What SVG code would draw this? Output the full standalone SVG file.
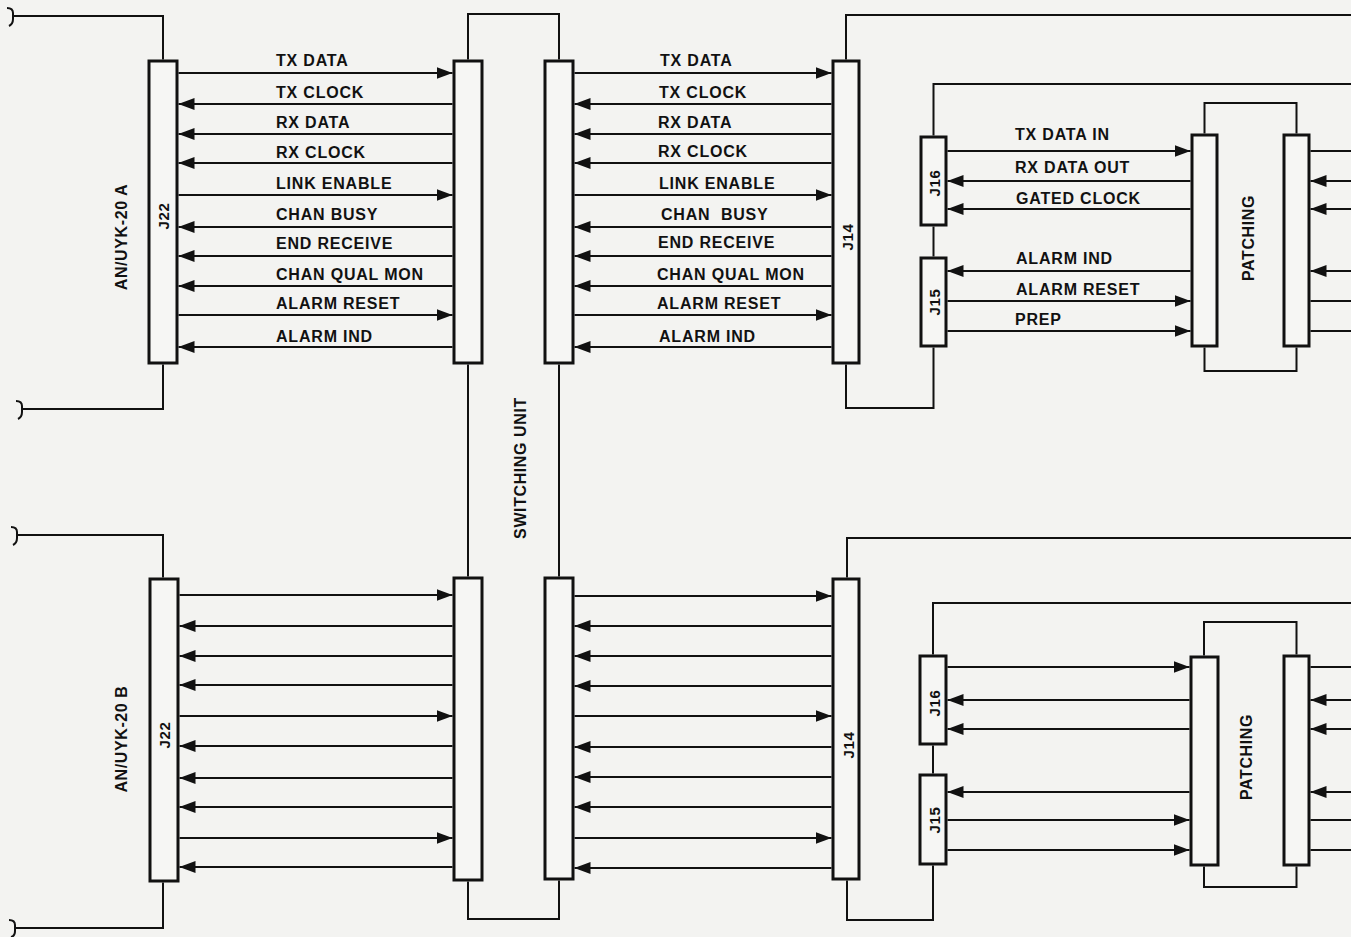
<svg xmlns="http://www.w3.org/2000/svg" width="1351" height="937" viewBox="0 0 1351 937">
<style>
.bg{fill:#f3f3f1}
.box{fill:#f6f6f4;stroke:#111;stroke-width:3}
.w{fill:none;stroke:#111;stroke-width:2}
.s{fill:none;stroke:#111;stroke-width:2.2}
.a{marker-end:url(#ah)}
.t{font-family:"Liberation Sans",Arial,sans-serif;font-size:16px;font-weight:bold;letter-spacing:0.8px;fill:#111}
.r{font-family:"Liberation Sans",Arial,sans-serif;font-size:16px;font-weight:bold;letter-spacing:0.6px;fill:#111;text-anchor:middle;dominant-baseline:central}
.j{font-family:"Liberation Sans",Arial,sans-serif;font-size:15px;font-weight:bold;letter-spacing:0.6px;fill:#111;text-anchor:middle;dominant-baseline:central}
</style>
<defs>
<marker id="ah" viewBox="0 0 16 12" refX="16" refY="6" markerWidth="16" markerHeight="12" markerUnits="userSpaceOnUse" orient="auto">
<path d="M0,0 L16,6 L0,12 z" fill="#111"/>
</marker>
</defs>
<rect class="bg" x="0" y="0" width="1351" height="937"/>

<g id="connectors">
<!-- top section wiring -->
<path class="w" d="M13,16 H163 V59.5"/>
<path class="w" d="M7,8 Q13,8 13,13 V19 Q13,24 9,26"/>
<path class="w" d="M163,364.5 V409 H22"/>
<path class="w" d="M16,401 Q22,401 22,406 V412 Q22,417 18,419"/>
<path class="w" d="M468,59.5 V14 H559 V59.5"/>
<path class="w" d="M468,364.5 V576.5"/>
<path class="w" d="M559,364.5 V576.5"/>
<path class="w" d="M846,59.5 V15 H1351"/>
<path class="w" d="M846,364.5 V408 H933.5 V347.5"/>
<path class="w" d="M933.5,135.5 V84 H1351"/>
<path class="w" d="M933.5,226.5 V256.5"/>
<path class="w" d="M1204.5,133.5 V103 H1296.5 V133.5"/>
<path class="w" d="M1204.5,347.5 V371 H1296.5 V347.5"/>
<!-- top left signals -->
<path class="s a" d="M178.5,73 H452.5"/>
<path class="s a" d="M452.5,104 H178.5"/>
<path class="s a" d="M452.5,134 H178.5"/>
<path class="s a" d="M452.5,163 H178.5"/>
<path class="s a" d="M178.5,195 H452.5"/>
<path class="s a" d="M452.5,227 H178.5"/>
<path class="s a" d="M452.5,256 H178.5"/>
<path class="s a" d="M452.5,286 H178.5"/>
<path class="s a" d="M178.5,315 H452.5"/>
<path class="s a" d="M452.5,347 H178.5"/>
<!-- top middle signals -->
<path class="s a" d="M574.5,73 H831.5"/>
<path class="s a" d="M831.5,104 H574.5"/>
<path class="s a" d="M831.5,134 H574.5"/>
<path class="s a" d="M831.5,163 H574.5"/>
<path class="s a" d="M574.5,195 H831.5"/>
<path class="s a" d="M831.5,227 H574.5"/>
<path class="s a" d="M831.5,256 H574.5"/>
<path class="s a" d="M831.5,286 H574.5"/>
<path class="s a" d="M574.5,315 H831.5"/>
<path class="s a" d="M831.5,347 H574.5"/>
<!-- top J16/J15 signals -->
<path class="s a" d="M947.5,151 H1190.5"/>
<path class="s a" d="M1190.5,181 H947.5"/>
<path class="s a" d="M1190.5,209 H947.5"/>
<path class="s a" d="M1190.5,271 H947.5"/>
<path class="s a" d="M947.5,301 H1190.5"/>
<path class="s a" d="M947.5,331 H1190.5"/>
<!-- top right of patching -->
<path class="s" d="M1310.5,151 H1351"/>
<path class="s a" d="M1351,181 H1310.5"/>
<path class="s a" d="M1351,209 H1310.5"/>
<path class="s a" d="M1351,271 H1310.5"/>
<path class="s" d="M1310.5,301 H1351"/>
<path class="s" d="M1310.5,331 H1351"/>

<!-- bottom section wiring -->
<path class="w" d="M17,535 H163 V577.5"/>
<path class="w" d="M11,527 Q17,527 17,532 V538 Q17,543 13,545"/>
<path class="w" d="M163,882.5 V928 H15"/>
<path class="w" d="M9,920 Q15,920 15,925 V931 Q15,936 11,937"/>
<path class="w" d="M468,881.5 V919 H559 V880.5"/>
<path class="w" d="M847,577.5 V538 H1351"/>
<path class="w" d="M847,880.5 V920 H933 V865.5"/>
<path class="w" d="M933,654.5 V603 H1351"/>
<path class="w" d="M933,745.5 V773.5"/>
<path class="w" d="M1204,655.5 V622 H1296.5 V654.5"/>
<path class="w" d="M1204,866.5 V887 H1296.5 V866.5"/>
<!-- bottom left signals -->
<path class="s a" d="M179.5,595 H452.5"/>
<path class="s a" d="M452.5,626 H179.5"/>
<path class="s a" d="M452.5,656 H179.5"/>
<path class="s a" d="M452.5,685 H179.5"/>
<path class="s a" d="M179.5,716 H452.5"/>
<path class="s a" d="M452.5,746 H179.5"/>
<path class="s a" d="M452.5,778 H179.5"/>
<path class="s a" d="M452.5,807 H179.5"/>
<path class="s a" d="M179.5,838 H452.5"/>
<path class="s a" d="M452.5,867 H179.5"/>
<!-- bottom middle signals -->
<path class="s a" d="M574.5,596 H831.5"/>
<path class="s a" d="M831.5,626 H574.5"/>
<path class="s a" d="M831.5,656 H574.5"/>
<path class="s a" d="M831.5,686 H574.5"/>
<path class="s a" d="M574.5,716 H831.5"/>
<path class="s a" d="M831.5,747 H574.5"/>
<path class="s a" d="M831.5,777 H574.5"/>
<path class="s a" d="M831.5,807 H574.5"/>
<path class="s a" d="M574.5,838 H831.5"/>
<path class="s a" d="M831.5,868 H574.5"/>
<!-- bottom J16/J15 signals -->
<path class="s a" d="M947.5,667 H1189.5"/>
<path class="s a" d="M1189.5,700 H947.5"/>
<path class="s a" d="M1189.5,729 H947.5"/>
<path class="s a" d="M1189.5,792 H947.5"/>
<path class="s a" d="M947.5,820 H1189.5"/>
<path class="s a" d="M947.5,850 H1189.5"/>
<!-- bottom right of patching -->
<path class="s" d="M1310.5,667 H1351"/>
<path class="s a" d="M1351,700 H1310.5"/>
<path class="s a" d="M1351,729 H1310.5"/>
<path class="s a" d="M1351,792 H1310.5"/>
<path class="s" d="M1310.5,820 H1351"/>
<path class="s" d="M1310.5,850 H1351"/>
</g>

<!-- top section nodes -->
<g id="uyk20a">
<text class="r" transform="rotate(-90 121 237)" x="121" y="237">AN/UYK-20 A</text>
</g>
<g id="j22a">
<rect class="box" x="149" y="61" width="28" height="302"/>
<text class="j" transform="rotate(-90 163 216)" x="163" y="216">J22</text>
</g>
<g id="sw-a-left">
<rect class="box" x="454" y="61" width="28" height="302"/>
</g>
<g id="sw-a-right">
<rect class="box" x="545" y="61" width="28" height="302"/>
</g>
<g id="switching-unit">
<text class="r" transform="rotate(-90 520 468)" x="520" y="468">SWITCHING UNIT</text>
</g>
<g id="j14a">
<rect class="box" x="833" y="61" width="26" height="302"/>
<text class="j" transform="rotate(-90 847 237)" x="847" y="237">J14</text>
</g>
<g id="j16a">
<rect class="box" x="921" y="137" width="25" height="88"/>
<text class="j" transform="rotate(-90 934 183)" x="934" y="183">J16</text>
</g>
<g id="j15a">
<rect class="box" x="921" y="258" width="25" height="88"/>
<text class="j" transform="rotate(-90 934 302)" x="934" y="302">J15</text>
</g>
<g id="patch-a-left">
<rect class="box" x="1192" y="135" width="25" height="211"/>
</g>
<g id="patch-a-right">
<rect class="box" x="1284" y="135" width="25" height="211"/>
</g>
<g id="patching-a">
<text class="r" transform="rotate(-90 1248 238)" x="1248" y="238">PATCHING</text>
</g>

<!-- bottom section nodes -->
<g id="uyk20b">
<text class="r" transform="rotate(-90 121 739)" x="121" y="739">AN/UYK-20 B</text>
</g>
<g id="j22b">
<rect class="box" x="150" y="579" width="28" height="302"/>
<text class="j" transform="rotate(-90 164 735)" x="164" y="735">J22</text>
</g>
<g id="sw-b-left">
<rect class="box" x="454" y="578" width="28" height="302"/>
</g>
<g id="sw-b-right">
<rect class="box" x="545" y="578" width="28" height="301"/>
</g>
<g id="j14b">
<rect class="box" x="833" y="579" width="26" height="300"/>
<text class="j" transform="rotate(-90 848 745)" x="848" y="745">J14</text>
</g>
<g id="j16b">
<rect class="box" x="920" y="656" width="26" height="88"/>
<text class="j" transform="rotate(-90 934 703)" x="934" y="703">J16</text>
</g>
<g id="j15b">
<rect class="box" x="920" y="775" width="26" height="89"/>
<text class="j" transform="rotate(-90 934 820)" x="934" y="820">J15</text>
</g>
<g id="patch-b-left">
<rect class="box" x="1191" y="657" width="27" height="208"/>
</g>
<g id="patch-b-right">
<rect class="box" x="1284" y="656" width="25" height="209"/>
</g>
<g id="patching-b">
<text class="r" transform="rotate(-90 1246 757)" x="1246" y="757">PATCHING</text>
</g>

<!-- signal labels -->
<g id="labels-left">
<text class="t" x="276" y="66">TX DATA</text>
<text class="t" x="276" y="98">TX CLOCK</text>
<text class="t" x="276" y="128">RX DATA</text>
<text class="t" x="276" y="158">RX CLOCK</text>
<text class="t" x="276" y="189">LINK ENABLE</text>
<text class="t" x="276" y="220">CHAN BUSY</text>
<text class="t" x="276" y="249">END RECEIVE</text>
<text class="t" x="276" y="280">CHAN QUAL MON</text>
<text class="t" x="276" y="309">ALARM RESET</text>
<text class="t" x="276" y="342">ALARM IND</text>
</g>
<g id="labels-mid">
<text class="t" x="660" y="66">TX DATA</text>
<text class="t" x="659" y="98">TX CLOCK</text>
<text class="t" x="658" y="128">RX DATA</text>
<text class="t" x="658" y="157">RX CLOCK</text>
<text class="t" x="659" y="189">LINK ENABLE</text>
<text class="t" x="661" y="220" xml:space="preserve">CHAN  BUSY</text>
<text class="t" x="658" y="248">END RECEIVE</text>
<text class="t" x="657" y="280">CHAN QUAL MON</text>
<text class="t" x="657" y="309">ALARM RESET</text>
<text class="t" x="659" y="342">ALARM IND</text>
</g>
<g id="labels-right">
<text class="t" x="1015" y="140">TX DATA IN</text>
<text class="t" x="1015" y="173">RX DATA OUT</text>
<text class="t" x="1016" y="204">GATED CLOCK</text>
<text class="t" x="1016" y="264">ALARM IND</text>
<text class="t" x="1016" y="295">ALARM RESET</text>
<text class="t" x="1015" y="325">PREP</text>
</g>
</svg>
